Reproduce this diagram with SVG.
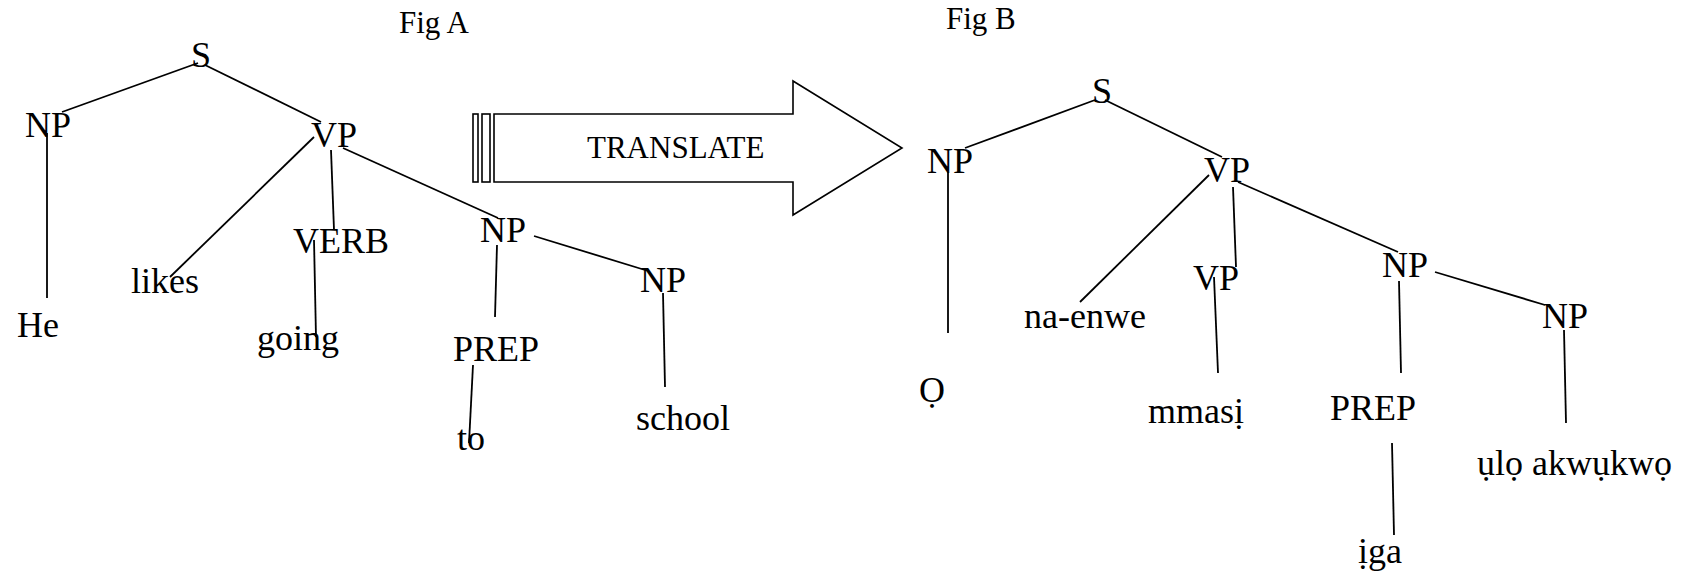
<svg xmlns="http://www.w3.org/2000/svg" width="1690" height="574" viewBox="0 0 1690 574">
<style>
text{font-family:"Liberation Serif","Times New Roman",serif;fill:#000;font-size:36px}
.fig{font-size:31px}
.edge{stroke:#000;stroke-width:1.8;fill:none}
.shape{stroke:#000;stroke-width:1.6;fill:#fff}
</style>
<rect width="1690" height="574" fill="#fff"/>
<g id="connectors">
<line class="edge" x1="198" y1="63" x2="62" y2="112"/>
<line class="edge" x1="205" y1="65" x2="321" y2="122"/>
<line class="edge" x1="47" y1="133" x2="47" y2="298"/>
<line class="edge" x1="314" y1="137" x2="170" y2="277"/>
<line class="edge" x1="331" y1="150" x2="334" y2="230"/>
<line class="edge" x1="343" y1="148" x2="498" y2="218"/>
<line class="edge" x1="314" y1="240" x2="316" y2="337"/>
<line class="edge" x1="497" y1="245" x2="495" y2="317"/>
<line class="edge" x1="534" y1="236" x2="645" y2="270"/>
<line class="edge" x1="663" y1="293" x2="665" y2="387"/>
<line class="edge" x1="473" y1="365" x2="469" y2="443"/>
<line class="edge" x1="1095" y1="100" x2="965" y2="148"/>
<line class="edge" x1="1105" y1="100" x2="1222" y2="157"/>
<line class="edge" x1="948" y1="172" x2="948" y2="333"/>
<line class="edge" x1="1209" y1="175" x2="1080" y2="302"/>
<line class="edge" x1="1233" y1="187" x2="1236" y2="267"/>
<line class="edge" x1="1238" y1="182" x2="1398" y2="252"/>
<line class="edge" x1="1214" y1="277" x2="1218" y2="373"/>
<line class="edge" x1="1399" y1="281" x2="1401" y2="373"/>
<line class="edge" x1="1435" y1="272" x2="1545" y2="305"/>
<line class="edge" x1="1564" y1="330" x2="1566" y2="423"/>
<line class="edge" x1="1392" y1="443" x2="1394" y2="535"/>
</g>
<g id="arrow">
<polygon class="shape" points="494,114 793,114 793,81 902,148 793,215 793,182 494,182"/>
<rect class="shape" x="473" y="114" width="5" height="68"/>
<rect class="shape" x="482" y="114" width="8" height="68"/>
<text class="fig" x="587" y="158">TRANSLATE</text>
</g>
<g id="figA">
<text class="fig" x="399" y="33">Fig A</text>
<g id="a-S"><text x="191" y="67">S</text></g>
<g id="a-NP1"><text x="25" y="137">NP</text></g>
<g id="a-VP"><text x="311" y="147">VP</text></g>
<g id="a-VERB"><text x="293" y="253">VERB</text></g>
<g id="a-NP2"><text x="480" y="242">NP</text></g>
<g id="a-likes"><text x="131" y="293">likes</text></g>
<g id="a-He"><text x="17" y="337">He</text></g>
<g id="a-going"><text x="257" y="350">going</text></g>
<g id="a-NP3"><text x="640" y="292">NP</text></g>
<g id="a-PREP"><text x="453" y="361">PREP</text></g>
<g id="a-to"><text x="457" y="450">to</text></g>
<g id="a-school"><text x="636" y="430">school</text></g>
</g>
<g id="figB">
<text class="fig" x="946" y="29">Fig B</text>
<g id="b-S"><text x="1092" y="103">S</text></g>
<g id="b-NP1"><text x="927" y="173">NP</text></g>
<g id="b-VP"><text x="1204" y="182">VP</text></g>
<g id="b-VP2"><text x="1193" y="290">VP</text></g>
<g id="b-NP2"><text x="1382" y="277">NP</text></g>
<g id="b-NP3"><text x="1542" y="328">NP</text></g>
<g id="b-naenwe"><text x="1024" y="328">na-enwe</text></g>
<g id="b-O"><text x="919" y="402">Ọ</text></g>
<g id="b-mmasi"><text x="1148" y="423">mmasị</text></g>
<g id="b-PREP"><text x="1330" y="420">PREP</text></g>
<g id="b-iga"><text x="1358" y="563">ịga</text></g>
<g id="b-ulo"><text x="1477" y="475">ụlọ akwụkwọ</text></g>
</g>
</svg>
